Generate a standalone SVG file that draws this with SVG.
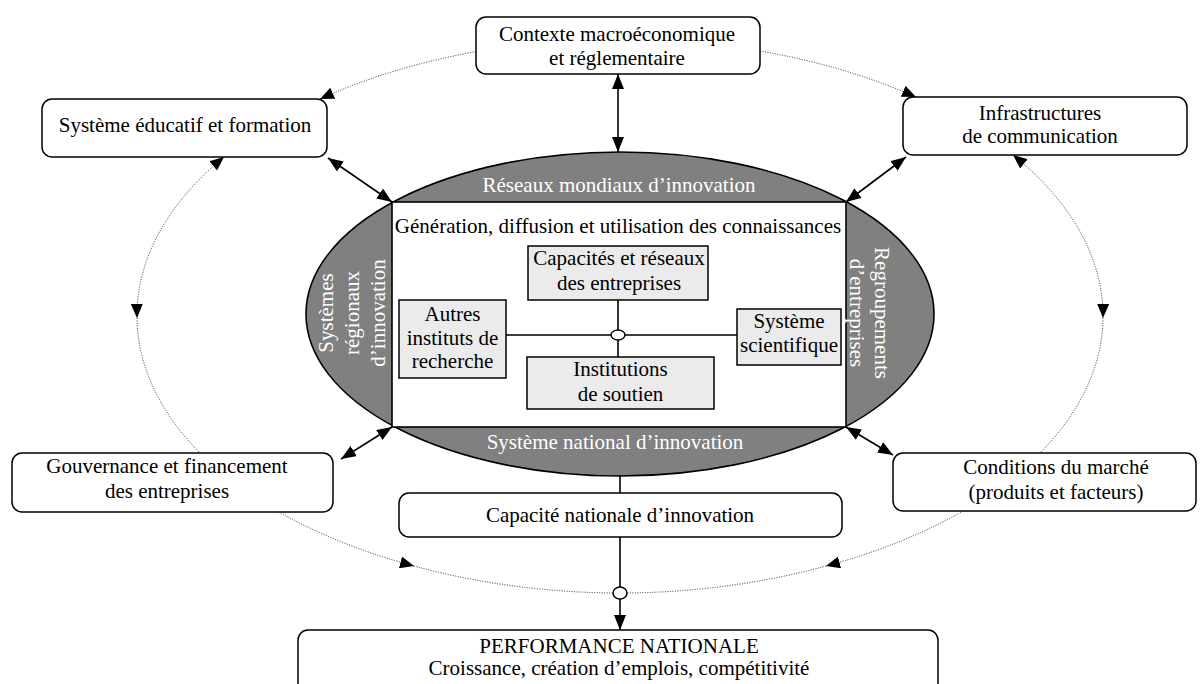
<svg xmlns="http://www.w3.org/2000/svg" width="1204" height="684" viewBox="0 0 1204 684">
<style>
text{font-family:"Liberation Serif","Times New Roman",serif;font-size:21px;fill:#000;text-anchor:middle}
.w{fill:#fff}
.box{fill:#fff;stroke:#000;stroke-width:1.5}
.ibox{fill:#ebebeb;stroke:#000;stroke-width:1.5}
.sol{fill:none;stroke:#000;stroke-width:1.6}
.dot{fill:none;stroke:#333;stroke-width:1;stroke-dasharray:1 1.5}
</style>
<defs>
<marker id="a" viewBox="0 0 15 12" refX="15" refY="6" markerWidth="15" markerHeight="12" markerUnits="userSpaceOnUse" orient="auto-start-reverse"><path d="M0,0 L15,6 L0,12 z" fill="#000"/></marker>
<marker id="d" viewBox="0 0 14 12" refX="14" refY="6" markerWidth="14" markerHeight="12" markerUnits="userSpaceOnUse" orient="auto-start-reverse"><path d="M0,0 L14,6 L0,12 z" fill="#000"/></marker>
</defs>

<g id="connectors">
<path class="dot" d="M476,51.6 A483,277 0 0 0 320,99" marker-end="url(#d)"/>
<path class="dot" d="M760,51 A483,277 0 0 1 916,97" marker-end="url(#d)"/>
<path class="dot" d="M224,157 A483,277 0 0 0 137,318" marker-start="url(#d)" marker-end="url(#d)"/>
<path class="dot" d="M137,318 A483,277 0 0 0 200,453"/>
<path class="dot" d="M1013,155 A483,277 0 0 1 1103,318" marker-start="url(#d)" marker-end="url(#d)"/>
<path class="dot" d="M1103,318 A483,277 0 0 1 1040,453"/>
<path class="dot" d="M279,512 A483,277 0 0 0 414,566" marker-end="url(#d)"/>
<path class="dot" d="M414,566 A483,277 0 0 0 613,593"/>
<path class="dot" d="M963,511 A483,277 0 0 1 826,566" marker-end="url(#d)"/>
<path class="dot" d="M826,566 A483,277 0 0 1 627,593"/>
<path class="sol" d="M618,74 L618,152" marker-start="url(#a)" marker-end="url(#a)"/>
<path class="sol" d="M328,158 L392,202" marker-start="url(#a)" marker-end="url(#a)"/>
<path class="sol" d="M906,157 L846,202" marker-start="url(#a)" marker-end="url(#a)"/>
<path class="sol" d="M341,459 L392,427" marker-start="url(#a)" marker-end="url(#a)"/>
<path class="sol" d="M846,427 L893,455" marker-start="url(#a)" marker-end="url(#a)"/>
<path class="sol" d="M620,476 L620,493"/>
<path class="sol" d="M620,537 L620,587"/>
<path class="sol" d="M620,599 L620,630" marker-end="url(#a)"/>
<ellipse cx="620" cy="593" rx="7" ry="6" fill="#fff" stroke="#000" stroke-width="1.5"/>
</g>

<g id="innovation-system">
<ellipse cx="620" cy="314" rx="314" ry="162" fill="#808080" stroke="#000" stroke-width="1.6"/>
<rect x="392" y="202" width="454" height="225" fill="#fff" stroke="#000" stroke-width="1.6"/>
<text class="w" x="619" y="192" font-size="19.7">Réseaux mondiaux d’innovation</text>
<text class="w" x="615" y="449" font-size="20.3">Système national d’innovation</text>
<g transform="translate(333,313) rotate(-90)">
<text class="w" x="0" y="0" font-size="20">Systèmes</text>
<text class="w" x="0" y="26" font-size="20">régionaux</text>
<text class="w" x="0" y="52" font-size="20">d’innovation</text>
</g>
<g transform="translate(875,313) rotate(90)">
<text class="w" x="0" y="0" font-size="20">Regroupements</text>
<text class="w" x="0" y="25" font-size="20">d’entreprises</text>
</g>
<text x="618" y="233" font-size="19">Génération, diffusion et utilisation des connaissances</text>
</g>

<g id="inner-links">
<path class="sol" d="M506,335 L737,335 M618,300 L618,357" stroke-width="1.4"/>
<ellipse cx="618" cy="335" rx="7" ry="5" fill="#fff" stroke="#000" stroke-width="1.4"/>
</g>

<g id="capacites">
<rect class="ibox" x="528" y="246" width="180" height="54"/>
<text x="619" y="265">Capacités et réseaux</text>
<text x="619" y="290">des entreprises</text>
</g>
<g id="autres-instituts">
<rect class="ibox" x="399" y="300" width="107" height="78"/>
<text x="452.5" y="321">Autres</text>
<text x="452.5" y="345">instituts de</text>
<text x="452.5" y="368">recherche</text>
</g>
<g id="institutions">
<rect class="ibox" x="527" y="357" width="187" height="52"/>
<text x="620.5" y="376">Institutions</text>
<text x="620.5" y="401">de soutien</text>
</g>
<g id="systeme-scientifique">
<rect class="ibox" x="737" y="309" width="104" height="56"/>
<text x="789" y="328">Système</text>
<text x="789" y="352">scientifique</text>
</g>

<g id="contexte">
<rect class="box" x="476" y="17" width="284" height="57" rx="10"/>
<text x="617" y="41">Contexte macroéconomique</text>
<text x="617" y="65">et réglementaire</text>
</g>
<g id="educatif">
<rect class="box" x="42" y="99" width="285" height="58" rx="10"/>
<text x="185" y="132">Système éducatif et formation</text>
</g>
<g id="infrastructures">
<rect class="box" x="903" y="97" width="284" height="58" rx="10"/>
<text x="1040" y="120">Infrastructures</text>
<text x="1040" y="143">de communication</text>
</g>
<g id="gouvernance">
<rect class="box" x="12" y="453" width="321" height="59" rx="10"/>
<text x="167" y="473">Gouvernance et financement</text>
<text x="167" y="498">des entreprises</text>
</g>
<g id="conditions">
<rect class="box" x="893" y="453" width="303" height="58" rx="10"/>
<text x="1056" y="474">Conditions du marché</text>
<text x="1056" y="499">(produits et facteurs)</text>
</g>
<g id="capacite-nationale">
<rect class="box" x="399" y="493" width="443" height="44" rx="10"/>
<text x="620" y="522">Capacité nationale d’innovation</text>
</g>
<g id="performance">
<rect class="box" x="298" y="630" width="640" height="80" rx="10"/>
<text x="619" y="653">PERFORMANCE NATIONALE</text>
<text x="619" y="675">Croissance, création d’emplois, compétitivité</text>
</g>
</svg>
